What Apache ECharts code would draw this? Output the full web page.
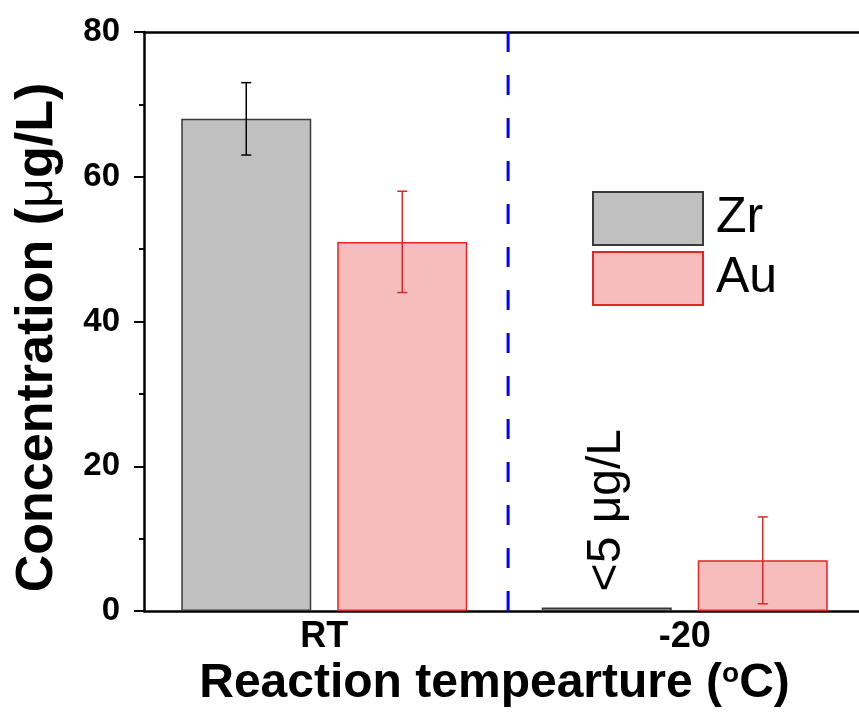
<!DOCTYPE html>
<html><head><meta charset="utf-8">
<script src="https://cdn.jsdelivr.net/npm/echarts@6/dist/echarts.min.js"></script>
<style>html,body{margin:0;padding:0;background:#fff;overflow:hidden}#c{width:880px;height:719px}</style>
</head><body><div id="c"></div>
<script>
const categories = ['RT', '-20'];
const zrValues = [68, 0.5];
const auValues = [51, 7];
const zrErrLow = [63, null];
const zrErrHigh = [73, null];
const auErrLow = [44, 1];
const auErrHigh = [58, 13];
const yTicks = [0, 20, 40, 60, 80];
const dividerX = [1.01, 1.01];
const dividerY = [80, 0];

const BAR_W = 130, BAR_GAP = 26;
const off = (BAR_W + BAR_GAP) / 2;

function errSeries(name, lows, highs, shift, color) {
  const data = [];
  lows.forEach((l, i) => { if (l != null) data.push([i, l, highs[i]]); });
  return {
    type: 'custom', name: name + '_err', silent: true, z: 5,
    data: data,
    renderItem: function (params, api) {
      const lo = api.coord([api.value(0), api.value(1)]);
      const hi = api.coord([api.value(0), api.value(2)]);
      const x = lo[0] + shift;
      const cw = 5;
      const st = { stroke: color, lineWidth: 1.5 };
      return { type: 'group', children: [
        { type: 'line', shape: { x1: x, y1: lo[1], x2: x, y2: hi[1] }, style: st },
        { type: 'line', shape: { x1: x - cw, y1: lo[1], x2: x + cw, y2: lo[1] }, style: st },
        { type: 'line', shape: { x1: x - cw, y1: hi[1], x2: x + cw, y2: hi[1] }, style: st }
      ]};
    }
  };
}

const chart = echarts.init(document.getElementById('c'), null, { renderer: 'canvas' });
const labelFont = 'Liberation Sans, Arial, sans-serif';
chart.setOption({
  animation: false,
  backgroundColor: '#fff',
  grid: { left: 144, top: 32, width: 721, bottom: 108 },
  legend: {
    data: ['Zr', 'Au'], orient: 'vertical', left: 587, top: 186,
    itemWidth: 110, itemHeight: 53, itemGap: 5, icon: 'rect',
    textStyle: { fontSize: 50, lineHeight: 53, color: '#000', fontFamily: labelFont, padding: [0, 0, 0, 8] }
  },
  xAxis: [
    {
      type: 'category', data: categories, position: 'bottom',
      axisLine: { lineStyle: { color: '#000', width: 2.5 } },
      axisTick: { show: false },
      axisLabel: { fontSize: 36, fontWeight: 'bold', color: '#000', fontFamily: labelFont, margin: 8 },
      name: '{a|Reaction tempearture (}{s|o}{a|C)}',
      nameLocation: 'middle', nameGap: 49,
      nameTextStyle: {
        padding: [0, 20, 0, 0],
        rich: {
          a: { fontSize: 48, fontWeight: 'bold', color: '#000', fontFamily: labelFont },
          s: { fontSize: 28, fontWeight: 'bold', color: '#000', fontFamily: labelFont, verticalAlign: 'top', padding: [0, 0, 16, 0] }
        }
      }
    },
    { type: 'value', min: 0, max: 2, show: false },
    {
      type: 'category', data: categories, position: 'top',
      axisLine: { lineStyle: { color: '#000', width: 2.5 } },
      axisTick: { show: false }, axisLabel: { show: false }
    }
  ],
  yAxis: {
    type: 'value', min: 0, max: 80, interval: 20,
    axisLine: { show: true, lineStyle: { color: '#000', width: 2.5 } },
    axisTick: { show: true, length: 10, lineStyle: { color: '#000', width: 2 } },
    minorTick: { show: true, splitNumber: 2, length: 5, lineStyle: { color: '#000', width: 2 } },
    splitLine: { show: false },
    axisLabel: { fontSize: 33, fontWeight: 'bold', color: '#000', fontFamily: labelFont, margin: 24,
      formatter: v => yTicks.includes(v) ? String(v) : '' },
    name: '{a|Concentration (}{m|μ}{a|g/L)}',
    nameLocation: 'middle', nameGap: 80,
    nameTextStyle: {
      padding: [0, 32, 0, 0],
      rich: {
        a: { fontSize: 52, fontWeight: 'bold', color: '#000', fontFamily: labelFont },
        m: { fontSize: 52, color: '#000', fontFamily: labelFont }
      }
    }
  },
  series: [
    {
      name: 'Zr', type: 'bar', data: zrValues.map((v, i) => i === 1 ? {
        value: v,
        label: { show: true, position: 'top', rotate: 90, align: 'left', verticalAlign: 'middle', distance: 16,
          formatter: '<5 μg/L', fontSize: 48, color: '#000', fontFamily: labelFont }
      } : v),
      barWidth: BAR_W, barGap: (BAR_GAP / BAR_W * 100) + '%',
      itemStyle: { color: '#c0c0c0', borderColor: '#3a3a3a', borderWidth: 1.5 }
    },
    {
      name: 'Au', type: 'bar', data: auValues, barWidth: BAR_W,
      itemStyle: { color: '#f7bcbc', borderColor: '#e02626', borderWidth: 1.5 }
    },
    errSeries('Zr', zrErrLow, zrErrHigh, -off, '#000'),
    errSeries('Au', auErrLow, auErrHigh, off, '#d42a2a'),
    {
      type: 'line', xAxisIndex: 1, data: dividerX.map((x, i) => [x, dividerY[i]]),
      symbol: 'none', silent: true, z: 6,
      lineStyle: { color: '#0000ff', width: 3, type: [20, 23] }
    }
  ]
});
</script></body></html>
